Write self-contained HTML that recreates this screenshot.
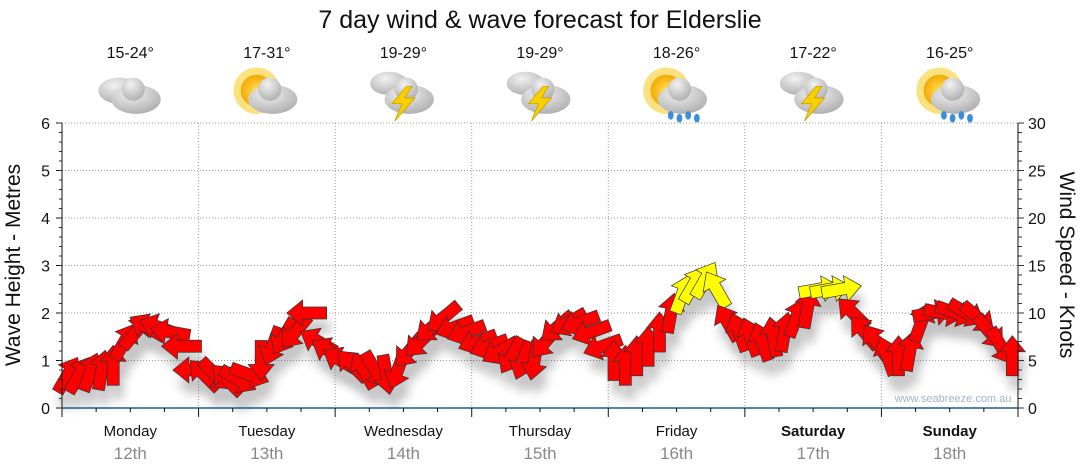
<!DOCTYPE html>
<html><head><meta charset="utf-8">
<style>
body{margin:0;background:#fff;}
svg{display:block;font-family:"Liberation Sans","DejaVu Sans",sans-serif;}
</style></head>
<body>
<svg id="chart" width="1080" height="475" viewBox="0 0 1080 475">
<defs>
<filter id="sh" x="-50%" y="-50%" width="200%" height="200%"><feGaussianBlur stdDeviation="5"/></filter>
<radialGradient id="cg" cx="0.4" cy="0.3" r="0.8"><stop offset="0" stop-color="#f2f2f2"/><stop offset="1" stop-color="#a8a8a8"/></radialGradient>
<radialGradient id="sg" cx="0.5" cy="0.5" r="0.5"><stop offset="0" stop-color="#ffe25a"/><stop offset="1" stop-color="#f4a800"/></radialGradient>
</defs>
<text x="540" y="28" text-anchor="middle" font-size="25" fill="#111">7 day wind &amp; wave forecast for Elderslie</text>
<g id="grid"></g>
<g id="shadows" opacity="0.35"></g>
<g id="arrows"></g>
<g id="axes"></g>
<g id="icons"></g>
<text x="953" y="402" text-anchor="middle" font-size="11" fill="#a3b3cc">www.seabreeze.com.au</text>
<text transform="translate(20,265) rotate(-90)" text-anchor="middle" font-size="21" fill="#111">Wave Height - Metres</text>
<text transform="translate(1060,265) rotate(90)" text-anchor="middle" font-size="21" fill="#111">Wind Speed - Knots</text>
</svg>
<script>
const days = ["Monday","Tuesday","Wednesday","Thursday","Friday","Saturday","Sunday"];
const dates = ["12th","13th","14th","15th","16th","17th","18th"];
const temps = ["15-24°","17-31°","19-29°","19-29°","18-26°","17-22°","16-25°"];
const weather = ["cloudy","sun","storm","storm","rain","storm","rain"];
const leftTicks = [0,1,2,3,4,5,6];
const rightTicks = [0,5,10,15,20,25,30];
// wind speed (knots), 2-hourly over 7 days
const windSpeed = [
3.5,3.5,3.8,4,4.5,7,8,8.5,8.5,8,6.5,4,
3.5,3.5,3,3,3.5,5,6.5,7.5,8,10,7,6,
5,4.5,4,4,3.5,4,6,7,8.5,9.5,8.5,8,
7,6.5,6,5.5,5,5,7,8.5,9,9,8,6.5,
5,4.5,5.5,6.5,8,10,12,13,13.5,12.5,9,8,
7.5,7,7.5,8,9.5,10.5,12.5,12.5,12.5,10,8,7,
5.5,5.5,6,9,10,10,10,10,9.5,8,6.5,5.5];
// direction the arrow points (degrees clockwise from up)
const windDir = [
30,30,20,10,0,30,40,-60,-70,-80,-90,-90,
-45,135,-45,120,110,180,200,210,220,-90,-60,-60,
-60,-45,-30,150,170,200,220,225,230,230,250,250,
250,250,240,210,200,190,220,230,240,250,250,250,
0,0,0,0,0,10,20,30,30,-30,-30,-20,
-20,-20,-10,10,20,10,80,80,80,-45,-40,-35,
-20,0,10,20,80,100,110,120,130,140,150,0];

const NS="http://www.w3.org/2000/svg";
const X0=62,X1=1018,Y0=408,Y1=123;
const xScale=t=>X0+(X1-X0)*t/84;           // t in 2-hour steps
const yWave=m=>Y0-(Y0-Y1)*m/6;
const yWind=k=>Y0-(Y0-Y1)*k/30;
const dayW=(X1-X0)/7;
function mk(tag,attrs,parent){const e=document.createElementNS(NS,tag);for(const k in attrs)e.setAttribute(k,attrs[k]);parent.appendChild(e);return e;}
const grid=document.getElementById('grid'),axes=document.getElementById('axes');
leftTicks.forEach(v=>{
  if(v>0){const l=mk('line',{x1:X0,x2:X1,y1:yWave(v),y2:yWave(v),stroke:'#999','stroke-dasharray':'1,2'},grid);
  
  }
  const t=mk('text',{x:50,y:yWave(v)+6,'text-anchor':'end','font-size':16,fill:'#111'},axes);t.textContent=v;
  
  
  mk('line',{x1:X0-6,x2:X0,y1:yWave(v),y2:yWave(v),stroke:'#111'},axes);
});
for(let m=0;m<=30;m++){mk('line',{x1:X0-3,x2:X0,y1:Y0-(Y0-Y1)*m/30,y2:Y0-(Y0-Y1)*m/30,stroke:'#333'},axes);
  mk('line',{x1:X1,x2:X1+(m%5==0?6:4),y1:yWind(m),y2:yWind(m),stroke:'#333'},axes);}
rightTicks.forEach(v=>{const t=mk('text',{x:1028,y:yWind(v)+6,'font-size':16,fill:'#111'},axes);t.textContent=v;
  
  });
mk('line',{x1:X0,x2:X0,y1:Y1,y2:Y0,stroke:'#111'},axes);
mk('line',{x1:X1,x2:X1,y1:Y1,y2:Y0,stroke:'#111'},axes);
mk('line',{x1:X0,x2:X1,y1:Y0,y2:Y0,stroke:'#1b5b8c','stroke-width':1.5},axes);
for(let q=0;q<=28;q++){const x=X0+dayW*q/4;mk('line',{x1:x,x2:x,y1:Y0,y2:Y0+(q%4==0?9:4),stroke:'#111'},axes);}
days.forEach((d,i)=>{
  const cx=X0+dayW*(i+0.5);
  if(i>0){const l=mk('line',{x1:X0+dayW*i,x2:X0+dayW*i,y1:Y1,y2:Y0,stroke:'#999','stroke-dasharray':'1,2'},grid);
    
    }
  const t=mk('text',{x:cx,y:436,'text-anchor':'middle','font-size':15,fill:'#111','font-weight':i>=5?'bold':'normal'},axes);t.textContent=d;
  
  
  const t2=mk('text',{x:cx,y:459,'text-anchor':'middle','font-size':17,fill:'#888'},axes);t2.textContent=dates[i];
  
  
  const t3=mk('text',{x:cx,y:58,'text-anchor':'middle','font-size':16,fill:'#111'},axes);t3.textContent=temps[i];
  
  
  const g=mk('g',{transform:`translate(${cx},95) scale(1.45)`},document.getElementById('icons'));
  
  
  const w=weather[i];
  if(w==='sun'||w==='rain'){mk('circle',{cx:-7,cy:-3,r:16,fill:'#f9c400',opacity:0.5},g);mk('circle',{cx:-7,cy:-3,r:11,fill:'url(#sg)'},g);}
  if(w==='cloudy'){mk('ellipse',{cx:-8,cy:-3,rx:14,ry:9,fill:'url(#cg)'},g);}
  if(w==='storm'){mk('ellipse',{cx:-10,cy:-8,rx:13,ry:8,fill:'url(#cg)'},g);}
  mk('ellipse',{cx:4,cy:3,rx:17,ry:10,fill:'url(#cg)'},g);
  mk('circle',{cx:2,cy:-4,r:8,fill:'url(#cg)'},g);
  if(w==='storm'){mk('polygon',{points:'2,-6 -8,6 -1,6 -6,18 8,2 1,2 6,-6',fill:'#f7d000',stroke:'#c90',"stroke-width":0.5},g);}
  if(w==='rain'){[[-4,14],[2,16],[8,14],[14,16]].forEach(p=>mk('ellipse',{cx:p[0],cy:p[1],rx:2,ry:3,fill:'#3a8fd8'},g));}
});
// arrow shape pointing up, centered at origin
const arrowPts="0,-20 13,-4 6,-4 6,20 -6,20 -6,-4 -13,-4";
const sh=document.getElementById('shadows'),ar=document.getElementById('arrows');
windSpeed.forEach((k,i)=>{
  const x=xScale(i+0.5),y=yWind(k);
  const s=mk('polygon',{points:arrowPts,fill:'#555',filter:'url(#sh)',transform:`translate(${x+4},${y+14}) rotate(${windDir[i]})`},sh);
  
  
  const a=mk('polygon',{points:arrowPts,fill:k>=12?'#ffff00':'#ff0000',stroke:'#333','stroke-width':0.7,transform:`translate(${x},${y}) rotate(${windDir[i]})`},ar);
  
  
});
</script>
</body></html>
